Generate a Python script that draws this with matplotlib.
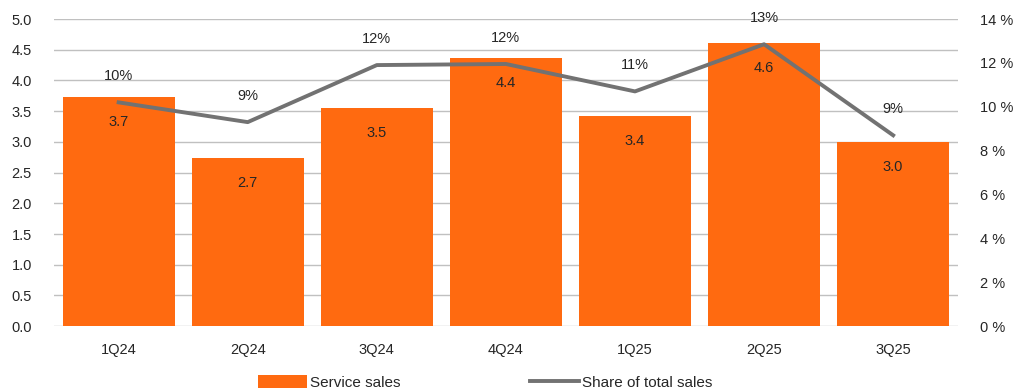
import matplotlib.pyplot as plt
import numpy as np

quarters = ["1Q24", "2Q24", "3Q24", "4Q24", "1Q25", "2Q25", "3Q25"]
service_sales = [3.73, 2.74, 3.55, 4.36, 3.42, 4.61, 2.99]
share_pct = [10.2, 9.3, 11.9, 11.95, 10.7, 12.85, 8.7]

plt.rcParams['font.family'] = ['Liberation Sans', 'DejaVu Sans']

orange = "#ff6a10"
grey = "#727272"
txt = "#262626"

fig = plt.figure(figsize=(10.21, 3.92), dpi=100)
ax = fig.add_axes([0.053, 0.168, 0.885, 0.7835])
ax2 = ax.twinx()

x = np.arange(len(quarters))
bars = ax.bar(x, service_sales, width=0.87, color=orange, zorder=2,
              label="Service sales")
ax.set_xlim(-0.5, len(quarters) - 0.5)
ax.set_ylim(0, 5)
ax.set_yticks(np.arange(0, 5.01, 0.5))
ax.set_yticklabels([f"{v:.1f}" for v in np.arange(0, 5.01, 0.5)])
ax.yaxis.grid(True, color="#c0c0c0", lw=1)
ax.set_axisbelow(True)
ax.set_xticks(x)
ax.set_xticklabels(quarters)
ax.tick_params(length=0, labelsize=10.5, colors=txt)
ax.tick_params(axis='y', pad=16)
ax.tick_params(axis='x', pad=12)
for s in ax.spines.values():
    s.set_visible(False)

for xi, v in zip(x, service_sales):
    ax.annotate(f"{v:.1f}", (xi, v), xytext=(0, -18), textcoords="offset points",
                ha="center", va="center", fontsize=10.5, color=txt, zorder=5)

line, = ax2.plot(x, share_pct, color=grey, lw=2.8, zorder=4,
                 label="Share of total sales")
ax2.set_ylim(0, 14)
ax2.set_yticks(range(0, 15, 2))
ax2.set_yticklabels([f"{v} %" for v in range(0, 15, 2)])
ax2.tick_params(length=0, labelsize=10.5, colors=txt, pad=16)
for s in ax2.spines.values():
    s.set_visible(False)

for xi, v in zip(x, share_pct):
    ax2.annotate(f"{v:.0f}%", (xi, v), xytext=(0, 19), textcoords="offset points",
                 ha="center", va="center", fontsize=10.5, color=txt)

fig.legend(handles=[bars, line], loc="lower center", ncol=2, frameon=False,
           bbox_to_anchor=(0.475, -0.03), fontsize=11, handlelength=3.2,
           handleheight=0.9, columnspacing=8.5, handletextpad=0.2,
           labelcolor=txt)

fig.savefig("out.png", dpi=100)
